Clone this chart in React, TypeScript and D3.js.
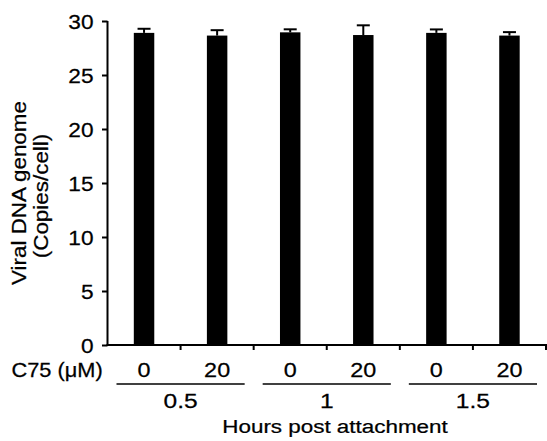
import { useRef, useEffect } from 'react';
import * as d3 from 'd3';

// bars, in plotting order
const doses = ['0', '20', '0', '20', '0', '20'];
const hours = ['0.5', '1', '1.5'];
const means = [28.9, 28.65, 28.95, 28.7, 28.9, 28.65];
const errors = [0.38, 0.5, 0.28, 0.9, 0.32, 0.32];
const yTicks = [0, 5, 10, 15, 20, 25, 30];

const FONT = '"Liberation Sans", Arial, sans-serif';

function App() {
  const svgRef = useRef(null);

  useEffect(() => {
    const svg = d3.select(svgRef.current);
    svg.selectAll('*').remove();

    const left = 107.5;
    const right = 546;
    const top = 21;
    const bottom = 345;

    const ids = doses.map((_, i) => i);
    const x = d3
      .scaleBand()
      .domain(ids)
      .range([left, right])
      .paddingInner(0.72)
      .paddingOuter(0.36);
    const step = x.step();

    const y = d3.scaleLinear().domain([0, 30]).range([bottom, top]);

    // text stretched along its own direction, like the original figure
    const label = (txt, tx, ty, opts = {}) => {
      const { size = 19.5, sx = 1.17, anchor = 'middle', rot = 0 } = opts;
      svg
        .append('text')
        .attr(
          'transform',
          `translate(${tx},${ty})${rot ? ` rotate(${rot})` : ''} scale(${sx},1)`
        )
        .attr('text-anchor', anchor)
        .attr('font-family', FONT)
        .attr('font-size', size)
        .attr('fill', '#000')
        .attr('stroke', '#000')
        .attr('stroke-width', 0.25)
        .text(txt);
    };

    // bars
    svg
      .append('g')
      .selectAll('rect')
      .data(means)
      .enter()
      .append('rect')
      .attr('x', (_, i) => x(i))
      .attr('y', (d) => y(d))
      .attr('width', x.bandwidth())
      .attr('height', (d) => y(0) - y(d))
      .attr('fill', '#000');

    // error bars (upper only)
    const err = svg
      .append('g')
      .attr('stroke', '#000')
      .attr('stroke-width', 2);
    means.forEach((m, i) => {
      const cx = x(i) + x.bandwidth() / 2;
      err
        .append('line')
        .attr('x1', cx)
        .attr('x2', cx)
        .attr('y1', y(m))
        .attr('y2', y(m + errors[i]));
      err
        .append('line')
        .attr('x1', cx - 6.5)
        .attr('x2', cx + 6.5)
        .attr('y1', y(m + errors[i]))
        .attr('y2', y(m + errors[i]));
    });

    // y axis
    const yAxis = svg
      .append('g')
      .attr('transform', `translate(${left},0)`)
      .call(d3.axisLeft(y).tickValues(yTicks).tickSize(5.5).tickPadding(0));
    yAxis.select('.domain').attr('stroke-width', 2).attr('d', `M0,${top}V${bottom}`);
    yAxis.selectAll('.tick line').attr('stroke-width', 2);
    yAxis
      .selectAll('.tick text')
      .attr('x', null)
      .attr('dy', null)
      .attr('transform', 'translate(-14,7.5) scale(1.08,1)')
      .attr('font-family', FONT)
      .attr('font-size', 21)
      .attr('fill', '#000')
      .attr('stroke', '#000')
      .attr('stroke-width', 0.25);

    // x axis with ticks between bars
    const xg = svg.append('g').attr('stroke', '#000').attr('stroke-width', 2);
    xg.append('line')
      .attr('x1', left - 1)
      .attr('x2', right + 1)
      .attr('y1', bottom)
      .attr('y2', bottom);
    d3.range(1, ids.length + 1).forEach((k) => {
      const tx = Math.min(left + k * step, right);
      xg.append('line')
        .attr('x1', tx)
        .attr('x2', tx)
        .attr('y1', bottom)
        .attr('y2', bottom + 5);
    });

    // dose row
    label('C75 (\u03bcM)', 11.5, 377, { anchor: 'start', size: 20, sx: 1.09 });
    doses.forEach((d, i) => {
      label(d, x(i) + x.bandwidth() / 2, 377, { size: 20 });
    });

    // hour groups
    hours.forEach((h, g) => {
      const g0 = left + g * 2 * step;
      const g1 = left + (g + 1) * 2 * step;
      svg
        .append('line')
        .attr('x1', g0 + 9)
        .attr('x2', g1 - 9)
        .attr('y1', 384)
        .attr('y2', 384)
        .attr('stroke', '#000')
        .attr('stroke-width', 1.3);
      label(h, (g0 + g1) / 2, 408, { size: 21 });
    });

    label('Hours post attachment', 335, 433, { size: 19, sx: 1.18 });

    // y title
    label('Viral DNA genome', 26, 193, { rot: -90, size: 19.5, sx: 1.15 });
    label('(Copies/cell)', 47.5, 196, { rot: -90, size: 19.5, sx: 1.15 });

    return () => {
      svg.selectAll('*').remove();
    };
  }, []);

  return (
    <svg
      ref={svgRef}
      width={547}
      height={441}
      style={{ position: 'absolute', left: 0, top: 0, background: '#fff' }}
    />
  );
}

export default App;
